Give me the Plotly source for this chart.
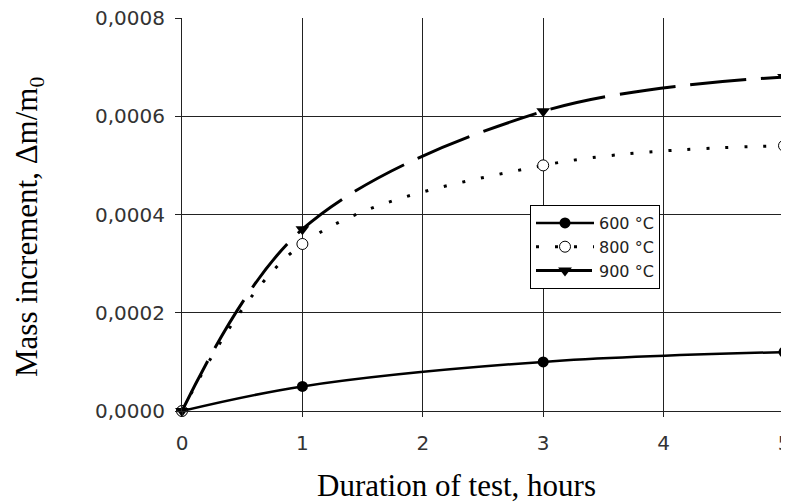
import plotly.graph_objects as go

hours = [0, 1, 3, 5]
mass_600 = [0.0, 0.00005, 0.00010, 0.00012]
mass_800 = [0.0, 0.00034, 0.00050, 0.00054]
mass_900 = [0.0, 0.00037, 0.00061, 0.00068]
series_names = ["600 °C", "800 °C", "900 °C"]

# page body has an 8px margin; work in screen pixels and subtract it
OFF = 8
W, H = 789 - OFF, 504 - OFF
PL, PR, PT, PB = 182, 784, 18, 411  # plot area in screen pixels
L, R, T, B = PL - OFF, (W + OFF) - PR, PT - OFF, (H + OFF) - PB
PW, PH = PR - PL, PB - PT


def px(xs):
    return (xs - PL) / PW


def py(ys):
    return (PB - ys) / PH


fig = go.Figure()
fig.add_trace(go.Scatter(
    x=hours, y=mass_600, name=series_names[0], mode="lines+markers",
    line=dict(color="black", width=2.5, shape="spline", smoothing=1.0),
    marker=dict(symbol="circle", size=11, color="black"),
    cliponaxis=False))
fig.add_trace(go.Scatter(
    x=hours, y=mass_800, name=series_names[1], mode="lines+markers",
    line=dict(color="black", width=3, dash="3px,16px", shape="spline", smoothing=1.0),
    marker=dict(symbol="circle", size=11, color="white", line=dict(color="black", width=1)),
    cliponaxis=False))
fig.add_trace(go.Scatter(
    x=hours, y=mass_900, name=series_names[2], mode="lines+markers",
    line=dict(color="black", width=3, dash="56px,15px", shape="spline", smoothing=1.0),
    marker=dict(symbol="triangle-down", size=12, color="black"),
    cliponaxis=False))

tick_font = dict(family="DejaVu Sans", size=20, color="#333333")

fig.update_layout(
    width=W, height=H, autosize=False,
    margin=dict(l=L, r=R, t=T, b=B, pad=0),
    paper_bgcolor="white", plot_bgcolor="white",
    separators=",.",
    showlegend=True,
    legend=dict(
        x=px(530), y=py(205),
        xanchor="left", yanchor="top",
        bgcolor="white", bordercolor="black", borderwidth=1,
        font=dict(family="DejaVu Sans", size=16, color="#222222"),
        itemwidth=58, tracegroupgap=0,
    ),
    xaxis=dict(
        range=[0, 5], dtick=1, tick0=0,
        showgrid=True, gridcolor="#222222", gridwidth=1,
        showline=True, linecolor="#222222", linewidth=1, mirror=False,
        ticks="outside", ticklen=5, tickcolor="#222222",
        tickfont=tick_font, ticklabelstandoff=9,
        ticklabeloverflow="allow",
        zeroline=False, automargin=False,
    ),
    yaxis=dict(
        range=[0, 0.0008], dtick=0.0002, tick0=0, tickformat=".4f",
        showgrid=True, gridcolor="#222222", gridwidth=1,
        showline=True, linecolor="#222222", linewidth=1,
        ticks="outside", ticklen=6, tickcolor="#222222",
        tickfont=tick_font, ticklabelstandoff=6,
        ticklabeloverflow="allow",
        zeroline=False, automargin=False,
    ),
    annotations=[
        dict(text="Duration of test, hours", xref="paper", yref="paper",
             x=px(456), y=py(485),
             xanchor="center", yanchor="middle", showarrow=False,
             font=dict(family="Liberation Serif", size=31, color="black")),
        dict(text="Mass increment, Δm/m<sub>0</sub>", xref="paper", yref="paper",
             x=px(29), y=py(227),
             xanchor="center", yanchor="middle", showarrow=False, textangle=-90,
             font=dict(family="Liberation Serif", size=31, color="black")),
    ],
)

fig.write_html("out.html")
